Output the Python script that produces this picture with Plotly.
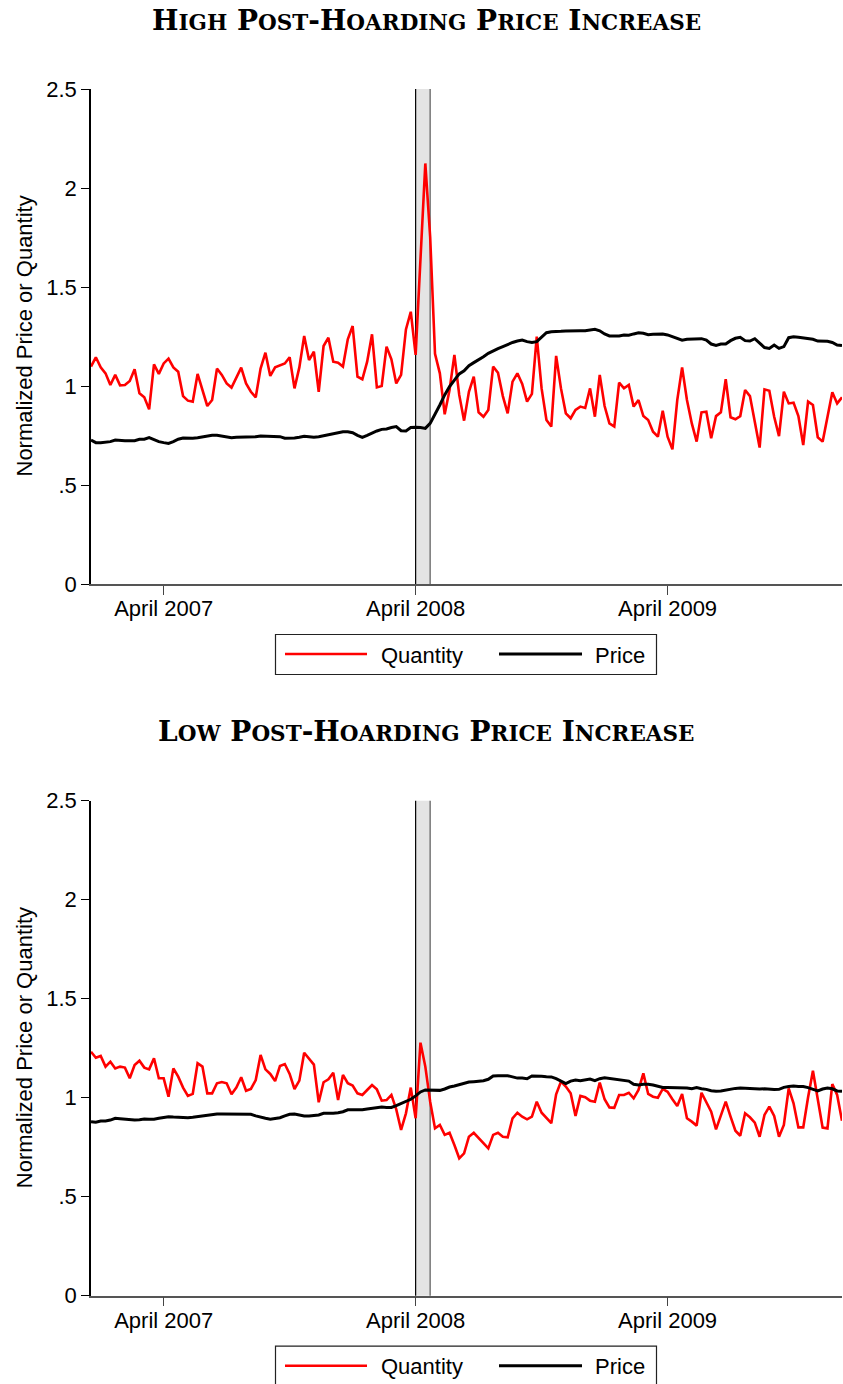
import plotly.graph_objects as go
import pandas as pd

# ---------------- data (weekly) ----------------
weeks = pd.date_range(start="2006-12-18", periods=156, freq="7D")

high_quantity = [
    1.098, 1.145, 1.094, 1.064, 1.005, 1.056, 1.003, 1.005, 1.025, 1.084,
    0.963, 0.943, 0.882, 1.109, 1.061, 1.114, 1.138, 1.094, 1.072, 0.949,
    0.926, 0.921, 1.061, 0.985, 0.899, 0.929, 1.088, 1.056, 1.013, 0.992,
    1.044, 1.093, 1.013, 0.971, 0.943, 1.088, 1.168, 1.051, 1.094, 1.106,
    1.114, 1.145, 0.988, 1.094, 1.253, 1.131, 1.173, 0.971, 1.202, 1.244,
    1.123, 1.118,
    1.098, 1.236, 1.303, 1.047, 1.034, 1.123, 1.261, 0.993, 1.000, 1.199,
    1.135, 1.013, 1.056, 1.286, 1.375, 1.157, 1.657, 2.124, 1.754, 1.162,
    1.064, 0.857, 0.980, 1.157, 0.955, 0.825, 0.971, 1.047, 0.867, 0.845,
    0.879, 1.098, 1.067, 0.949, 0.862, 1.022, 1.064, 1.010, 0.921, 0.960,
    1.249, 0.988, 0.828, 0.795, 1.152, 0.988, 0.862, 0.837, 0.879, 0.896,
    0.889, 0.988,
    0.845, 1.056, 0.899, 0.811, 0.795, 1.017, 0.988, 1.005, 0.896, 0.929,
    0.848, 0.828, 0.769, 0.744, 0.875, 0.744, 0.680, 0.929, 1.094, 0.929,
    0.811, 0.719, 0.867, 0.870, 0.736, 0.848, 0.867, 1.034, 0.842, 0.832,
    0.848, 0.980, 0.949, 0.828, 0.689, 0.983, 0.976, 0.845, 0.747, 0.971,
    0.912, 0.916, 0.848, 0.702, 0.921, 0.904, 0.741, 0.719, 0.845, 0.968,
    0.912, 0.943,
]

high_price = [
    0.727, 0.714, 0.714, 0.715, 0.719, 0.727, 0.724, 0.724, 0.724, 0.724,
    0.731, 0.731, 0.739, 0.727, 0.719, 0.714, 0.710, 0.719, 0.731, 0.737,
    0.736, 0.736, 0.739, 0.744, 0.749, 0.751, 0.751, 0.747, 0.742, 0.739,
    0.741, 0.741, 0.744, 0.744, 0.744, 0.747, 0.747, 0.746, 0.746, 0.744,
    0.736, 0.736, 0.737, 0.741, 0.746, 0.744, 0.741, 0.744, 0.749, 0.754,
    0.758, 0.764,
    0.769, 0.769, 0.764, 0.751, 0.741, 0.751, 0.764, 0.773, 0.781, 0.783,
    0.790, 0.795, 0.774, 0.773, 0.790, 0.792, 0.790, 0.786, 0.811, 0.854,
    0.904, 0.955, 0.997, 1.030, 1.061, 1.077, 1.103, 1.118, 1.131, 1.148,
    1.165, 1.178, 1.189, 1.199, 1.210, 1.220, 1.227, 1.232, 1.224, 1.220,
    1.224, 1.249, 1.269, 1.274, 1.274, 1.276, 1.278, 1.279, 1.281, 1.279,
    1.279, 1.283,
    1.286, 1.279, 1.263, 1.253, 1.253, 1.253, 1.258, 1.256, 1.263, 1.269,
    1.266, 1.259, 1.261, 1.263, 1.263, 1.258, 1.249, 1.236, 1.231, 1.236,
    1.237, 1.239, 1.239, 1.232, 1.212, 1.205, 1.212, 1.212, 1.229, 1.241,
    1.246, 1.229, 1.227, 1.239, 1.215, 1.194, 1.190, 1.207, 1.190, 1.199,
    1.244, 1.249, 1.246, 1.242, 1.241, 1.236, 1.227, 1.227, 1.226, 1.220,
    1.207, 1.204,
]

low_quantity = [
    1.232, 1.202, 1.211, 1.157, 1.182, 1.148, 1.157, 1.152, 1.098, 1.165,
    1.187, 1.152, 1.143, 1.199, 1.098, 1.098, 1.005, 1.148, 1.106, 1.051,
    1.009, 1.019, 1.174, 1.157, 1.022, 1.022, 1.073, 1.079, 1.073, 1.017,
    1.051, 1.103, 1.035, 1.044, 1.089, 1.216, 1.143, 1.120, 1.084, 1.160,
    1.170, 1.120, 1.044, 1.086, 1.227, 1.194, 1.167, 0.977, 1.078, 1.093,
    1.126, 0.988,
    1.115, 1.073, 1.061, 1.022, 1.014, 1.039, 1.064, 1.042, 0.985, 0.988,
    1.014, 0.941, 0.837, 0.921, 1.051, 0.896, 1.278, 1.157, 0.980, 0.845,
    0.862, 0.812, 0.823, 0.761, 0.694, 0.719, 0.803, 0.823, 0.798, 0.773,
    0.744, 0.812, 0.823, 0.803, 0.800, 0.896, 0.924, 0.904, 0.891, 0.904,
    0.980, 0.924, 0.896, 0.871, 1.017, 1.081, 1.056, 1.022, 0.908, 1.009,
    1.002, 0.985,
    0.980, 1.076, 0.992, 0.951, 0.949, 1.014, 1.014, 1.025, 0.997, 1.039,
    1.123, 1.019, 1.005, 1.000, 1.044, 1.030, 0.992, 0.958, 1.019, 0.896,
    0.879, 0.859, 1.025, 0.980, 0.929, 0.840, 0.908, 0.980, 0.904, 0.833,
    0.808, 0.921, 0.901, 0.874, 0.803, 0.913, 0.955, 0.908, 0.803, 0.862,
    1.047, 0.972, 0.850, 0.850, 1.002, 1.136, 0.992, 0.849, 0.845, 1.069,
    1.014, 0.884,
]

low_price = [
    0.879, 0.876, 0.882, 0.882, 0.887, 0.896, 0.894, 0.892, 0.891, 0.887,
    0.889, 0.892, 0.891, 0.891, 0.896, 0.901, 0.904, 0.902, 0.901, 0.899,
    0.899, 0.901, 0.904, 0.908, 0.913, 0.916, 0.918, 0.918, 0.918, 0.916,
    0.916, 0.918, 0.918, 0.916, 0.908, 0.901, 0.896, 0.891, 0.896, 0.899,
    0.908, 0.916, 0.918, 0.913, 0.908, 0.908, 0.909, 0.913, 0.921, 0.920,
    0.921, 0.924,
    0.929, 0.939, 0.939, 0.938, 0.939, 0.943, 0.946, 0.950, 0.953, 0.951,
    0.951, 0.960, 0.970, 0.982, 0.992, 1.009, 1.029, 1.039, 1.039, 1.037,
    1.037, 1.044, 1.054, 1.059, 1.066, 1.074, 1.079, 1.081, 1.084, 1.086,
    1.093, 1.110, 1.111, 1.111, 1.111, 1.105, 1.099, 1.099, 1.096, 1.110,
    1.110, 1.108, 1.106, 1.105, 1.096, 1.083, 1.071, 1.084, 1.089, 1.086,
    1.089, 1.094,
    1.086, 1.096, 1.101, 1.098, 1.094, 1.093, 1.089, 1.084, 1.068, 1.064,
    1.068, 1.068, 1.064, 1.059, 1.052, 1.051, 1.051, 1.051, 1.051, 1.049,
    1.045, 1.051, 1.045, 1.042, 1.035, 1.032, 1.034, 1.039, 1.041, 1.047,
    1.049, 1.047, 1.045, 1.045, 1.044, 1.045, 1.042, 1.041, 1.042, 1.052,
    1.057, 1.059, 1.057, 1.056, 1.051, 1.044, 1.034, 1.044, 1.049, 1.045,
    1.034, 1.032,
]

x_tick_vals = ["2007-04-02", "2008-03-31", "2009-03-30"]
x_tick_text = ["April 2007", "April 2008", "April 2009"]
y_tick_vals = [0, 0.5, 1, 1.5, 2, 2.5]
y_tick_text = ["0", ".5", "1", "1.5", "2", "2.5"]
hoarding_start = "2008-03-31"
hoarding_end = "2008-04-21"
series_names = ["Quantity", "Price"]

SC = "<span style='font-size:21.5px'>{}</span>"
panel_titles = [
    "H" + SC.format("IGH") + " P" + SC.format("OST") + "-H" + SC.format("OARDING")
    + " P" + SC.format("RICE") + " I" + SC.format("NCREASE"),
    "L" + SC.format("OW") + " P" + SC.format("OST") + "-H" + SC.format("OARDING")
    + " P" + SC.format("RICE") + " I" + SC.format("NCREASE"),
]

# ---------------- layout helpers ----------------
W, H = 843, 1384
RED = "#ff0000"
SANS = "Liberation Sans, Arial, Helvetica, sans-serif"
SERIF = "DejaVu Serif, Liberation Serif, serif"


def px_x(p):
    return p / W


def px_y(p):
    return 1 - p / H


panel_offset = 711.7
panels = [
    dict(xa="x", ya="y", q=high_quantity, p=high_price, dy=0.0),
    dict(xa="x2", ya="y2", q=low_quantity, p=low_price, dy=panel_offset),
]

fig = go.Figure()
for i, pnl in enumerate(panels):
    fig.add_trace(go.Scatter(
        x=weeks, y=pnl["q"], mode="lines", name=series_names[0],
        line=dict(color=RED, width=2.6), xaxis=pnl["xa"], yaxis=pnl["ya"],
        showlegend=False,
    ))
    fig.add_trace(go.Scatter(
        x=weeks, y=pnl["p"], mode="lines", name=series_names[1],
        line=dict(color="black", width=3), xaxis=pnl["xa"], yaxis=pnl["ya"],
        showlegend=False,
    ))

shapes = []
annotations = []
for i, pnl in enumerate(panels):
    dy = pnl["dy"]
    # hoarding band
    shapes.append(dict(type="rect", xref=pnl["xa"], yref=pnl["ya"] + " domain",
                       x0=hoarding_start, x1=hoarding_end, y0=0, y1=1,
                       fillcolor="#e4e4e4", line=dict(width=0), layer="below"))
    shapes.append(dict(type="line", xref=pnl["xa"], yref=pnl["ya"] + " domain",
                       x0=hoarding_start, x1=hoarding_start, y0=0, y1=1,
                       line=dict(color="black", width=1.2), layer="below"))
    shapes.append(dict(type="line", xref=pnl["xa"], yref=pnl["ya"] + " domain",
                       x0=hoarding_end, x1=hoarding_end, y0=0, y1=1,
                       line=dict(color="#7f7f7f", width=1.6), layer="below"))
    # legend box
    shapes.append(dict(type="rect", xref="paper", yref="paper",
                       x0=px_x(275.5), x1=px_x(656.5),
                       y0=px_y(634.5 + dy), y1=px_y(674.5 + dy),
                       line=dict(color="#222222", width=1.2), fillcolor="rgba(0,0,0,0)"))
    shapes.append(dict(type="line", xref="paper", yref="paper",
                       x0=px_x(285), x1=px_x(367), y0=px_y(654 + dy), y1=px_y(654 + dy),
                       line=dict(color=RED, width=2.6)))
    shapes.append(dict(type="line", xref="paper", yref="paper",
                       x0=px_x(499), x1=px_x(582), y0=px_y(654 + dy), y1=px_y(654 + dy),
                       line=dict(color="black", width=3)))
    annotations.append(dict(text=series_names[0], xref="paper", yref="paper",
                            x=px_x(379), y=px_y(655 + dy), xanchor="left", yanchor="middle",
                            showarrow=False, font=dict(family=SANS, size=22, color="black")))
    annotations.append(dict(text=series_names[1], xref="paper", yref="paper",
                            x=px_x(593), y=px_y(655 + dy), xanchor="left", yanchor="middle",
                            showarrow=False, font=dict(family=SANS, size=22, color="black")))
    # title
    annotations.append(dict(text="<b>" + panel_titles[i] + "</b>", xref="paper", yref="paper",
                            x=px_x(426), y=px_y(20 + dy), xanchor="center", yanchor="middle",
                            showarrow=False, font=dict(family=SERIF, size=28, color="black")))
    # y axis title
    annotations.append(dict(text="Normalized Price or Quantity", xref="paper", yref="paper",
                            x=px_x(24), y=px_y(336.5 + dy), xanchor="center", yanchor="middle",
                            textangle=-90, showarrow=False,
                            font=dict(family=SANS, size=22, color="black")))

xaxis_common = dict(
    range=[weeks[0], weeks[-1]], domain=[px_x(91), px_x(842)],
    tickmode="array", tickvals=x_tick_vals, ticktext=x_tick_text,
    ticks="outside", ticklen=9, tickwidth=1.3, tickcolor="#444444",
    showline=True, linecolor="#555555", linewidth=1.5,
    showgrid=False, zeroline=False, ticklabelstandoff=-5,
    tickfont=dict(family=SANS, size=22, color="black"), automargin=False,
)
yaxis_common = dict(
    range=[0, 2.5], tickmode="array", tickvals=y_tick_vals, ticktext=y_tick_text,
    ticks="outside", ticklen=8, tickwidth=1.3, tickcolor="black",
    showline=True, linecolor="black", linewidth=1.5,
    showgrid=False, zeroline=False,
    tickfont=dict(family=SANS, size=22, color="black"), automargin=False,
)

fig.update_layout(
    width=W, height=H,
    margin=dict(l=0, r=0, t=0, b=0),
    paper_bgcolor="white", plot_bgcolor="white",
    showlegend=False,
    xaxis=dict(**xaxis_common, anchor="y"),
    yaxis=dict(**yaxis_common, anchor="x", domain=[px_y(584), px_y(89)]),
    xaxis2=dict(**xaxis_common, anchor="y2"),
    yaxis2=dict(**yaxis_common, anchor="x2",
                domain=[px_y(584 + panel_offset), px_y(89 + panel_offset)]),
    shapes=shapes,
    annotations=annotations,
)

fig.write_html("out.html")
